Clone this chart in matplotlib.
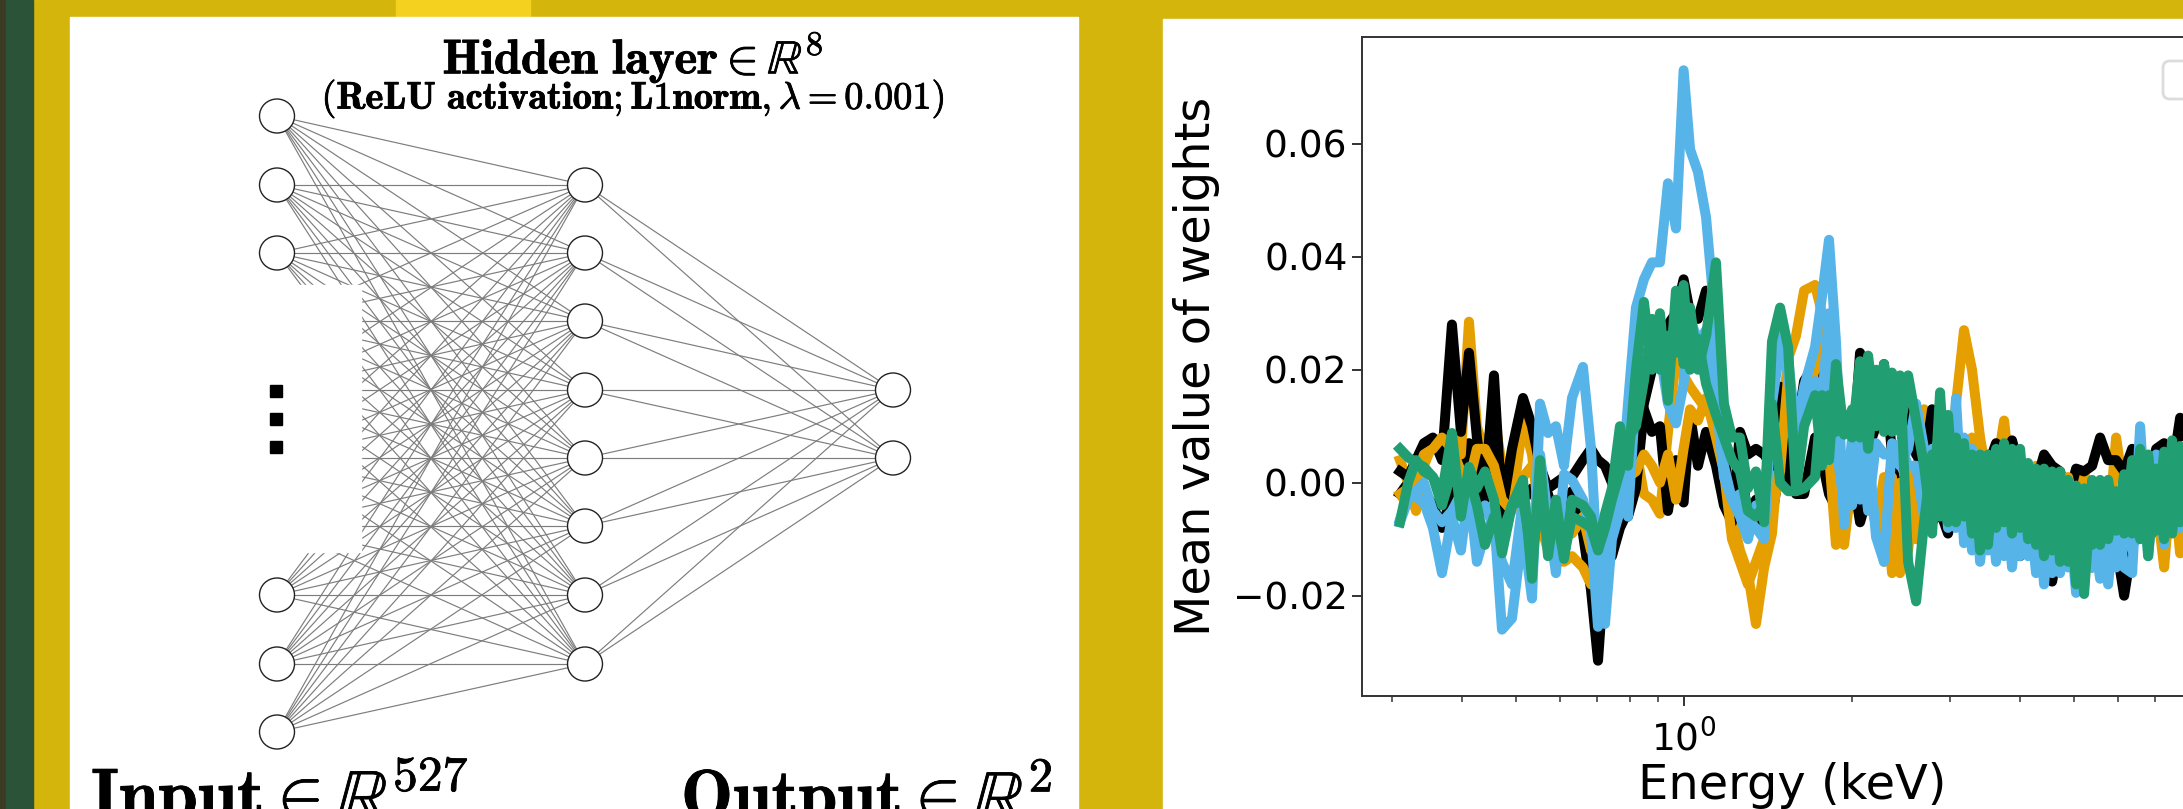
#!/usr/bin/env python3
"""Poster crop: network sketch (left) and mean weights per hidden node against energy (right)."""

import matplotlib
matplotlib.use('Agg')
import matplotlib.pyplot as plt
import matplotlib.patheffects as pe
import numpy as np
from matplotlib.patches import Ellipse, FancyBboxPatch, Rectangle

# ---- values (weights in units of 1e-3) ----
energy_kev = [
    0.3103, 0.3209, 0.3315, 0.3425, 0.3555, 0.3690, 0.3845, 0.3990, 0.4125, 0.4262,
    0.4406, 0.4573, 0.4727, 0.4926, 0.5155, 0.5350, 0.5530, 0.5715, 0.5905, 0.6105,
    0.6310, 0.6602, 0.6825, 0.7025, 0.7230, 0.7440, 0.7690, 0.7950, 0.8215, 0.8490,
    0.8775, 0.9070, 0.9375, 0.9690, 1.0000, 1.027, 1.061, 1.097, 1.143, 1.181,
    1.221, 1.262, 1.304, 1.348, 1.394, 1.440, 1.489, 1.539, 1.590, 1.644,
    1.720, 1.770, 1.822, 1.875, 1.939, 2.004, 2.071, 2.141, 2.212, 2.286,
    2.363, 2.442, 2.525, 2.610, 2.697, 2.788, 2.881, 2.977, 3.077, 3.180,
    3.287, 3.398, 3.511, 3.630, 3.752, 3.877, 4.008, 4.142, 4.281, 4.425,
    4.574, 4.727, 4.886, 5.050, 5.220, 5.395, 5.576, 5.763, 5.957, 6.157,
    6.364, 6.577, 6.799, 7.027, 7.262, 7.506, 7.757, 8.016,
]

black_a = [
    2, 1, 4, 7, 8, 4, 28, 9, 23, 8,
    -2, 19, -5, 6, 15, 10, 3, -1, 0, 1,
    1, 4, 6, 4, 3, 0, -3, -6, -1, 13,
    9, 10, -5, 4, -3.5, 12, 3, 9, 3, -4,
    -7, 9, 5, 6, 5, 3, 17, -1, 8, 18,
    21, 21, 9, 10, -2, 3, 23, 6, 10, 21,
    5, 4, 17, 5, 3, 13, 5, 7, 2, 5,
    1, 2, 3, 7, 2, 7.5, 2, 1, 0, 5,
    3, 2, -3, 2.5, 2, 3, 8, 4, 4, 2,
    6, 1, -1, 6, 7, 2, 11.5, 5,
]
black_b = [
    -2, 0, -2, -1.5, -4, -8, -2, 2, 7, 2,
    -3, 6, -6.5, -2, -3, -1, -5, -2, -7, -10.5,
    -1.5, -9, -19, -31.5, -14, -13, -8, -5, 3, 14,
    20, 27, 28, 30, 36, 30, 29, 34, 20, 5,
    -5, 4, -6, -3, -8, -6, 3, 3, -2, -2,
    8, 4, -2, -4.5, -5, 2, -7, -2, -5, -2,
    3, -3, -2, -5, -6, -7, -5, -9, -3, -6,
    -3, -7, -8, -5, -11, -6, -13, -8, -10, -14,
    -17.5, -10, -12, -8, -12, -15, -9, -16, -11, -20,
    -11, -9, -6, -8, -10.5, -6, -7, -6,
]
orange_a = [
    4, 0, -5, 3, 7, 8, 7, 5, 28.5, 10,
    5, 12, 3, -4, 11, 5, -7, -12, -13.7, -14,
    -13, -15, -18, -13, -14, -9, -5, -3, 6, -2,
    -3, -5.5, 9, 22, 19, 17, 15, 13, 11, -1,
    -6, -12, -16, -25, -15, -9, 8, 22, 26, 34,
    35, 30, 29, 17, -11, 1, 7, 0, -8, 1,
    -16, 0, -12, 1, 13, -5, 6, 2, 14, 27,
    20, 8, 0, 2, 11, -2, 3, -8, 3, -5,
    -1, -9, 0, -5, 2, -6, -3, -9, 8, -2,
    -8, 3, -6, -3, -15, 2, -12.5, 5,
]
orange_b = [
    -2, -1, 1, 5, 6, 8, 6, 2, 0, 6,
    6, 3, -3, -5, 1, 3, -3, -9, -6, -8,
    -9, -6, -12, -12, -8, -6, -3, 1, 2, 5,
    3, 0, 5, -3, 6, 13, 11, 15, 8, 2,
    -10, -14, -18, -14, -10, -5, 2, 19, 5, 15,
    20, 28, 5, -11, -1, 5, 3, -3, -6, -14,
    1, -16, 2, -10, -3, 0, -5, 2, -3, 5,
    8, -3, -6, 0, -5, -10, -2, -6, -1, -8,
    -3, -7, 1, -6, -1, -8, -2, -5, -2, -8,
    -3, -6, -1, -7, -4, -5, -3, -9,
]
blue_a = [
    -6.5, -2, -2.5, -3.5, -8, -16, -6, -12, -1, -14,
    -9, -6, -26, -24, -8, -20.5, 14, 8.8, 10, 3,
    15, 20.5, 6, -17, -25, -10, -5, 14, 31, 36,
    39, 39, 53, 45, 73, 59, 55, 47, 27, 3,
    -3, -2, -8, -8, -10, 14, 24, 22, 9, 17,
    24, 33, 43, 25, -7.5, 8, -3, 7, -9.6, -14,
    7, 3, 6, 14, 6, -7, 8, -8, 15, -10.7,
    6, -14, 0, -14, 1, -15, 1, -13, 0, -18,
    -2, -16, -4, -19.5, -5, -15, -5, -18, -4, -15,
    -16, 10, -13, 5, -11, 4, -6, 4,
]
blue_b = [
    -7, -3, -1.5, 0, -5, -7, -5, -2, -3, -6,
    -4, -8, -14, -18, -3, -11, 5, -6, -16, 1.5,
    0.5, -3, -9, -25.5, -12, -2.5, 0, -6, 16, 20.5,
    21, 23, 14, 10.5, 17.5, 29, 25, 27, 15, 1,
    -3, -6, -10, -4, -5, 17, 26, 19, 8, 14,
    18, 14, 30, 7, -4, -4, 7, -5, 7, 5,
    5, 7, 3, 3, -6, 6, -5, 8, -8, 8,
    -12, 3, -12, 0, -13, 0, -13, -2, -16, -3,
    -16, -5, -15, -6, -17, -7, -17, -7, -15, -5,
    -12, 2, -11, 0, -9, -2, -8, -1,
]
green_a = [
    6, 4.5, 3.5, 2.8, 1, -1.8, 8.8, -6, 2.8, -1,
    2, -3, -12.5, -4, 0.5, -17, 4, -13, -3, -13.5,
    -3, -4, -6, -11.5, -5.5, -1, 10, 3, 20, 32,
    20, 30, 14.5, 34, 21, 31, 20, 26, 39, 14,
    8, 8, -1, 2, -7, 25, 31, 24, -1.5, 10,
    15.5, 3, 15.5, 9, 12, 8, 21.5, 6, 20, 9,
    19.5, 9, 19, 11, 3, -9, 16, -7, 8, -6,
    5, -12, 5, -8, 7, -9, 6, -10, 2.5, -13,
    2, -14, 0.5, -18, -1, -11, 0.5, -10, -1.5, -9,
    4, -10, 5, -8.5, 5.5, -9, 6.5, -7,
]
green_b = [
    -7, 0, 4, 2, 1, -4, 2, -2, 1, -4,
    -11, -6, -9, -4, -3, -13, -3, -8, -6, -13,
    -6, -7, -8, -12, -8, -3, 2, 8, 10, 18,
    29, 20, 26, 23, 35, 20, 25.5, 17.5, 12, 8,
    4, 2, -5, -6, -4, 14, 0, -1.5, -1.5, -1,
    1, 15.5, 4, 21, 8.5, 13, 8, 22.5, 10, 21,
    9, 19, -14, -21, -7, 5, -6, 12, -7, 7,
    -9, 5, -11, 6, -7, 6, -8, 3.5, -11, 2.5,
    -12, 2, -14, -0.5, -19.7, 0.5, -11, 0.5, -8.5, 1.5,
    -9, 6, -13, 2.5, -10, 7.5, -7, 6,
]

# ---- black at the bottom, green on top, as they overlap in the picture ----
series = [
    (black_b, 'black'), (orange_a, '#E69F00'), (black_a, 'black'), (orange_b, '#E69F00'),
    (blue_a, '#56B4E9'), (blue_b, '#56B4E9'), (green_a, '#219F72'), (green_b, '#219F72'),
]

# node heights of the sketch, in pixels from the top
input_y = [116, 185, 253, 321, 390, 458, 526, 595, 664, 732]
hidden_y = [185, 253, 321, 390, 458, 526, 595, 664]
output_y = [390, 458]
input_x, hidden_x, output_x = 277, 585, 893

W, H = 2183, 809
fig = plt.figure(figsize=(W / 100, H / 100), dpi=100, facecolor='#d4b50c')
plt.rcParams['mathtext.fontset'] = 'cm'

# ---- background: one axes in pixel coordinates ----
bg = fig.add_axes([0, 0, 1, 1])
bg.set_xlim(0, W)
bg.set_ylim(H, 0)
bg.axis('off')
bg.add_patch(Rectangle((0, 0), 6, H, color='#3a3b22'))
bg.add_patch(Rectangle((6, 0), 27, H, color='#2b5337'))
bg.add_patch(Rectangle((396, 0), 134, 18, color='#f3d11e'))
bg.add_patch(Rectangle((70, 17), 1008, H, color='white'))
bg.add_patch(Rectangle((1163, 19), W, H, color='white'))

# ---- network sketch ----
for y0 in input_y:
    for y1 in hidden_y:
        bg.plot([input_x, hidden_x], [y0, y1], color='#7d7d7d', lw=0.85)
for y0 in hidden_y:
    for y1 in output_y:
        bg.plot([hidden_x, output_x], [y0, y1], color='#7d7d7d', lw=0.85)

# the middle inputs are blanked out and replaced with dots
bg.add_patch(Rectangle((240, 285), 121, 267, color='white', zorder=3))
for y in [391, 419, 447]:
    bg.add_patch(Rectangle((270, y - 6), 12, 12, color='black', zorder=4))

for x, ys in [(input_x, input_y[:3] + input_y[7:]), (hidden_x, hidden_y), (output_x, output_y)]:
    for y in ys:
        bg.add_patch(Ellipse((x, y), 35, 34, fc='white', ec='#222222', lw=1.0, zorder=5))

# cmb10 is lighter than the bold face of the reference, a thin stroke makes up for it
bold = [pe.withStroke(linewidth=0.6, foreground='black')]
bg.text(633, 57, r'$\mathbf{Hidden\ layer}\in\mathbb{R}^{\mathbf{8}}$', fontsize=35,
        ha='center', va='center', color='black', path_effects=bold)
bg.text(633, 99, r'$\mathbf{(ReLU\ activation;L1norm,}\lambda=\mathbf{0.001)}$', fontsize=27.6,
        ha='center', va='center', color='black', path_effects=bold)
bg.text(91, 818, r'$\mathbf{Input}\in\mathbb{R}^{\mathbf{527}}$', fontsize=51,
        ha='left', va='baseline', color='black', path_effects=bold)
bg.text(681, 818, r'$\mathbf{Output}\in\mathbb{R}^{\mathbf{2}}$', fontsize=50,
        ha='left', va='baseline', color='black', path_effects=bold)

# empty legend frame, mostly outside the crop
bg.add_patch(FancyBboxPatch((2163, 61), 60, 38, boxstyle='round,pad=0,rounding_size=7',
                            fc='white', ec='#dcdcdc', lw=2.0, zorder=6))

# ---- weights plot: the right side of the axes runs off the crop ----
ax_left, ax_right, ax_top, ax_bottom = 1362, 2222, 36.5, 696
ax = fig.add_axes([ax_left / W, 1 - ax_bottom / H, (ax_right - ax_left) / W, (ax_bottom - ax_top) / H])
ax.patch.set_alpha(0)
for values, colour in series:
    ax.plot(energy_kev, np.array(values) * 1e-3, color=colour, lw=7.2)

ax.set_xscale('log')
ax.set_xlim(0.2653, 9.22)
ax.set_ylim(-0.03775, 0.07898)
ax.set_yticks([-0.02, 0.00, 0.02, 0.04, 0.06])
ax.tick_params(axis='both', which='major', labelsize=27, length=7, width=1.4, color='#333333')
ax.tick_params(axis='x', which='minor', length=4, width=1.1, color='#333333')
ax.tick_params(axis='x', which='major', pad=10)
ax.set_xlabel('Energy (keV)', fontsize=34.5)
ax.set_ylabel('Mean value of weights', fontsize=34.5)
ax.xaxis.set_label_coords(0.5, -0.1)
ax.yaxis.set_label_coords(-0.165, 0.5)
for sp in ax.spines.values():
    sp.set_linewidth(1.4)
    sp.set_color('#333333')

fig.savefig('out.png', dpi=100, facecolor=fig.get_facecolor())
